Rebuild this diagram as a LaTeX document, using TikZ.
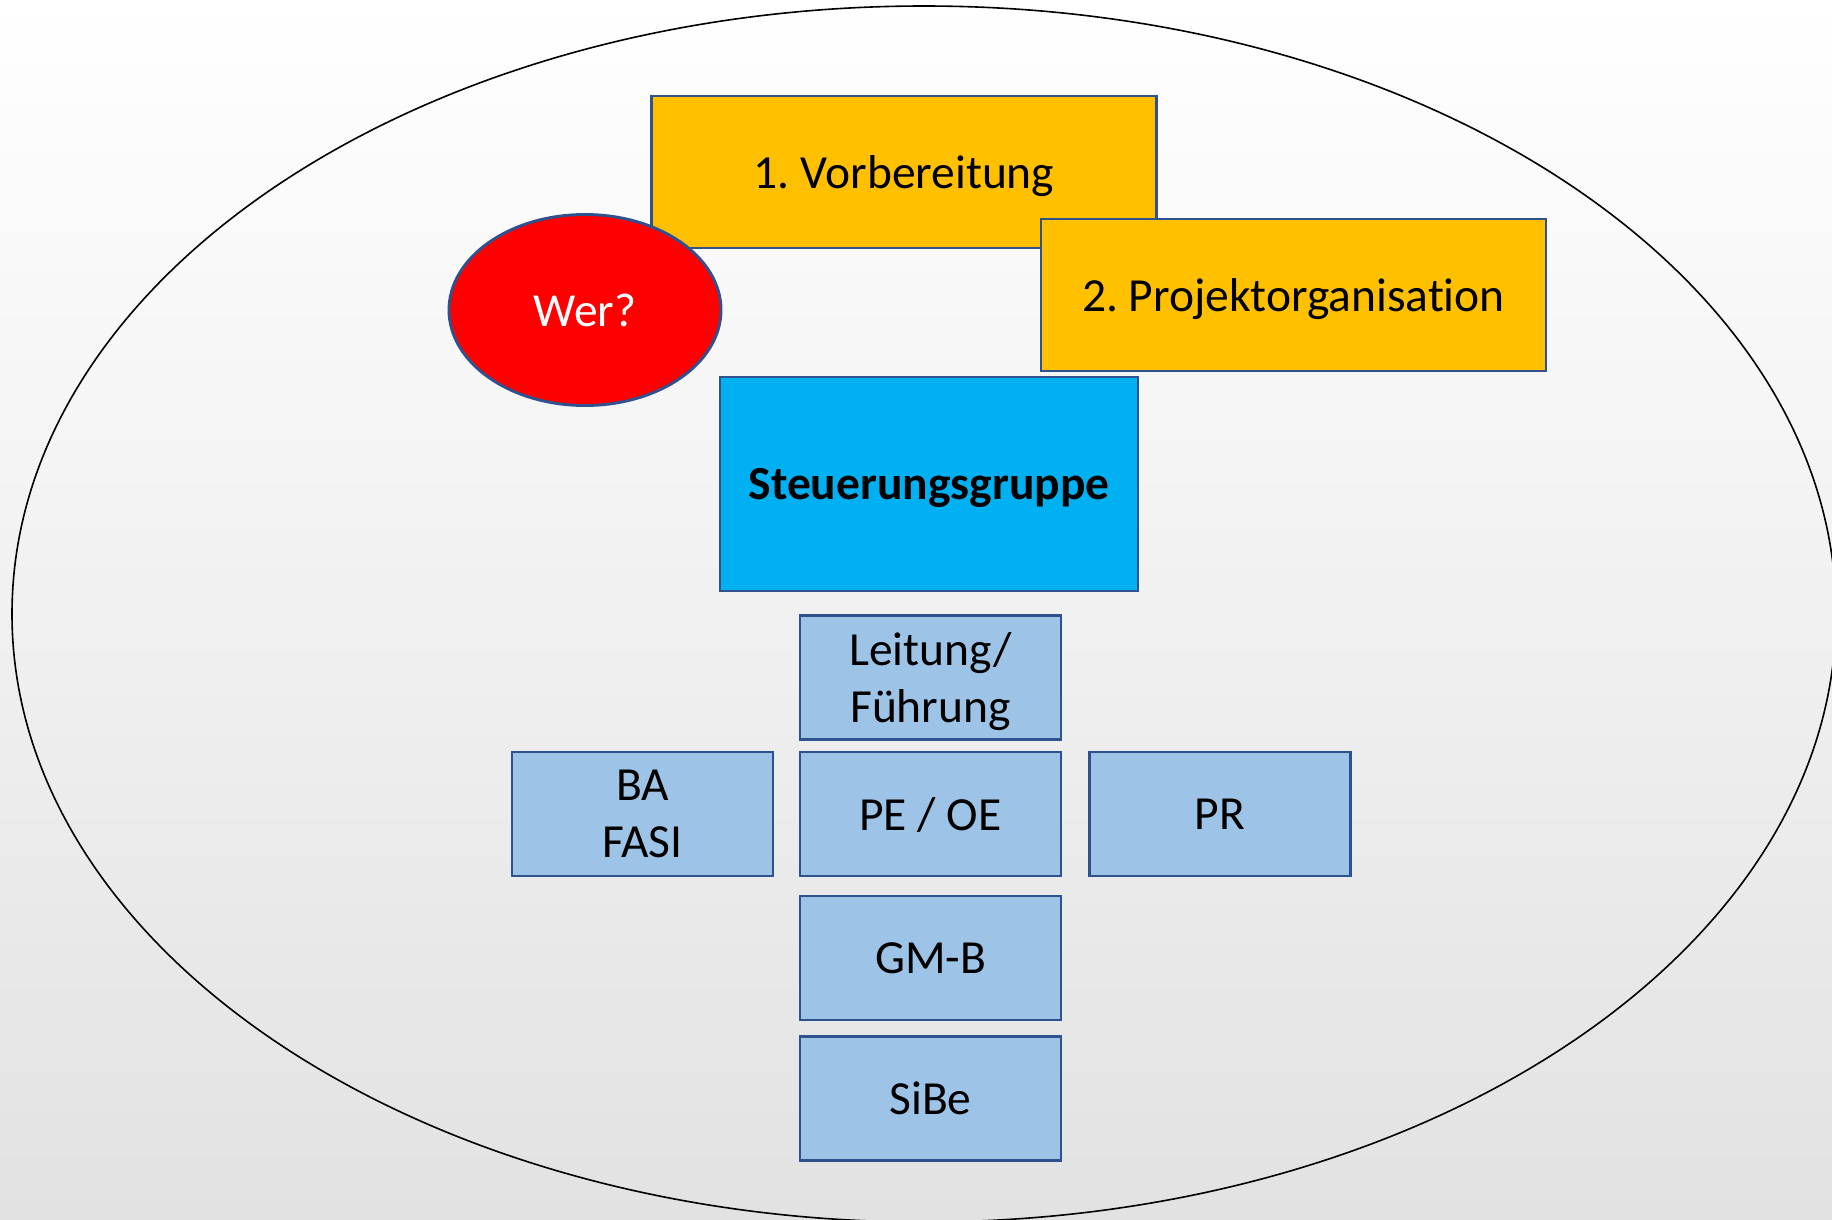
\documentclass[tikz,border=0pt]{standalone}
\usepackage{fontspec}
\setmainfont{Carlito}[RawFeature={-liga;-clig;-dlig;-calt}]
\usetikzlibrary{shapes.geometric}
\definecolor{bgbot}{RGB}{227,226,227}
\definecolor{boxline}{HTML}{2F528F}
\definecolor{orangefill}{HTML}{FFC000}
\definecolor{cyanfill}{HTML}{00B0F0}
\definecolor{lightfill}{HTML}{9DC3E6}
\begin{document}
\frenchspacing
\begin{tikzpicture}[x=1pt,y=-1pt,
  basebox/.style={draw=boxline, line width=2.9pt, inner sep=0pt, outer sep=0pt,
    align=center, text depth=0pt, font=\fontsize{47.5}{57}\selectfont},
  orangebox/.style={basebox, fill=orangefill, minimum width=505pt, minimum height=152pt},
  smallbox/.style={basebox, fill=lightfill, minimum width=261pt, minimum height=124pt},
]
\useasboundingbox (0,0) rectangle (1832,1219);
\shade[top color=white, bottom color=bgbot] (0,0) rectangle (1832,1219);
\node[ellipse, draw=black, line width=1.6pt, minimum width=1824pt, minimum height=1216pt, inner sep=0pt] (outer) at (924,614) {};

\node[orangebox] (vorb) at (904,172) {1. Vorbereitung};
\node[ellipse, basebox, fill=red, text=white, minimum width=272pt, minimum height=191pt] (wer) at (585,310) {Wer?};
\node[orangebox] (proj) at (1293.5,295) {2. Projektorganisation};
\node[basebox, fill=cyanfill, minimum width=418pt, minimum height=214pt, font=\fontsize{47.5}{57}\selectfont\bfseries] (steu) at (929,484) {Steuerungsgruppe};

\node[smallbox] (leit) at (930.5,677.5) {Leitung/\\Führung};
\node[smallbox] (ba) at (642.5,814) {BA\\FASI};
\node[smallbox] (peoe) at (930.5,814) {PE / OE};
\node[smallbox] (pr) at (1220,814) {PR};
\node[smallbox] (gmb) at (930.5,958) {GM-B};
\node[smallbox] (sibe) at (930.5,1098.5) {SiBe};
\end{tikzpicture}
\end{document}
